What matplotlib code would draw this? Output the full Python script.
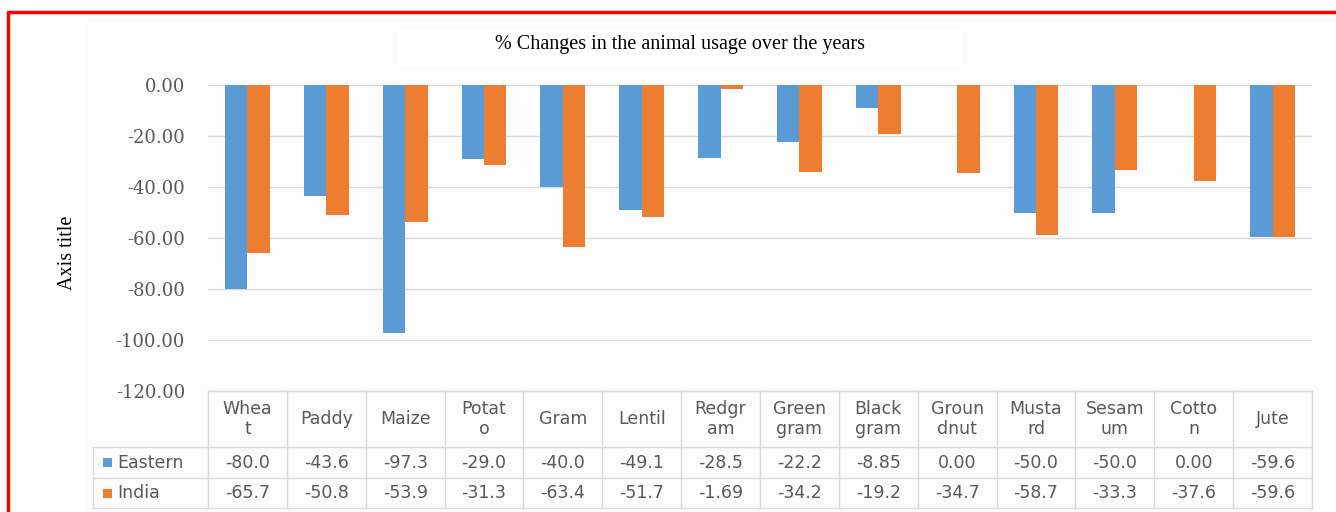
import matplotlib
matplotlib.use("Agg")
import matplotlib.pyplot as plt
from matplotlib.patches import Rectangle
from matplotlib.lines import Line2D

categories = ["Wheat", "Paddy", "Maize", "Potato", "Gram", "Lentil", "Redgram",
              "Green gram", "Black gram", "Groundnut", "Mustard", "Sesamum",
              "Cotton", "Jute"]
header_labels = ["Whea\nt", "Paddy", "Maize", "Potat\no", "Gram", "Lentil", "Redgr\nam",
                 "Green\ngram", "Black\ngram", "Groun\ndnut", "Musta\nrd", "Sesam\num",
                 "Cotto\nn", "Jute"]
eastern = [-80.0, -43.6, -97.3, -29.0, -40.0, -49.1, -28.5, -22.2, -8.85, 0.00,
           -50.0, -50.0, 0.00, -59.6]
india = [-65.7, -50.8, -53.9, -31.3, -63.4, -51.7, -1.69, -34.2, -19.2, -34.7,
         -58.7, -33.3, -37.6, -59.6]
eastern_text = ["-80.0", "-43.6", "-97.3", "-29.0", "-40.0", "-49.1", "-28.5", "-22.2",
                "-8.85", "0.00", "-50.0", "-50.0", "0.00", "-59.6"]
india_text = ["-65.7", "-50.8", "-53.9", "-31.3", "-63.4", "-51.7", "-1.69", "-34.2",
              "-19.2", "-34.7", "-58.7", "-33.3", "-37.6", "-59.6"]
series_names = ["Eastern", "India"]
yticks = [0, -20, -40, -60, -80, -100, -120]
title = "% Changes in the animal usage over the years"
ylabel = "Axis title"

BLUE = "#5B9BD5"
ORANGE = "#ED7D31"
GRID = "#D9D9D9"
TXT = "#595959"

W, H = 1336, 512
fig = plt.figure(figsize=(W / 100, H / 100), dpi=100)
fig.patch.set_facecolor("white")

# chart area background
fig.add_artist(Rectangle((85 / W, 0), (W - 85) / W, (H - 18) / H, transform=fig.transFigure,
                         facecolor="#FCFCFC", edgecolor="none", zorder=0))
# title box
fig.add_artist(Rectangle((398 / W, 1 - 66 / H), (962 - 398) / W, 36 / H, transform=fig.transFigure,
                         facecolor="white", edgecolor="none", zorder=1))
# red border
fig.add_artist(Line2D([8 / W, 8 / W, 1.0], [0, 1 - 12 / H, 1 - 12 / H], transform=fig.transFigure,
                      color="red", lw=2.5, zorder=10))

left, right, top, bottom = 208, 1312, 85, 391
ax = fig.add_axes([left / W, 1 - bottom / H, (right - left) / W, (bottom - top) / H])
ax.set_facecolor("none")
n = len(categories)
x = list(range(n))
bw = 0.285
ax.bar([i - bw / 2 for i in x], eastern, width=bw, color=BLUE, zorder=3)
ax.bar([i + bw / 2 for i in x], india, width=bw, color=ORANGE, zorder=3)
ax.set_xlim(-0.5, n - 0.5)
ax.set_ylim(-120, 0)
ax.set_yticks(yticks)
ax.set_yticklabels([f"{v:.2f}" for v in yticks], color=TXT, fontsize=13, family="DejaVu Serif")
ax.tick_params(axis="y", length=0, pad=16.5)
ax.set_xticks([])
ax.grid(axis="y", color=GRID, lw=1, zorder=0)
for s in ax.spines.values():
    s.set_visible(False)

fig.text(680 / W, 1 - 44 / H, title, ha="center", va="center", fontsize=14.5,
         family="Liberation Serif", color="black", zorder=5)
fig.text(67 / W, 1 - 253 / H, ylabel, ha="center", va="center", rotation=90,
         fontsize=14.5, family="Liberation Serif", color="black")

# data table
ax_h = bottom - top
def fy(px):
    return (bottom - px) / ax_h

trans = ax.get_xaxis_transform()
y_head_top = fy(391)
y_r1 = fy(447)
y_r2 = fy(478)
y_r3 = fy(508)
x_lab = -0.5 - (left - 93) / ((right - left) / n)
lkw = dict(color=GRID, lw=1, transform=trans, clip_on=False)
ax.add_line(Line2D([-0.5, n - 0.5], [y_head_top, y_head_top], **lkw))
for yy in (y_r1, y_r2, y_r3):
    ax.add_line(Line2D([x_lab, n - 0.5], [yy, yy], **lkw))
ax.add_line(Line2D([x_lab, x_lab], [y_r1, y_r3], **lkw))
for k in range(n + 1):
    ax.add_line(Line2D([k - 0.5, k - 0.5], [y_head_top, y_r3], **lkw))

tkw = dict(transform=trans, ha="center", va="center", fontsize=12.5, color=TXT,
           family="DejaVu Sans", clip_on=False)
for i in range(n):
    ax.text(i, (y_head_top + y_r1) / 2, header_labels[i], linespacing=1.1, **tkw)
    ax.text(i, (y_r1 + y_r2) / 2, eastern_text[i], **tkw)
    ax.text(i, (y_r2 + y_r3) / 2, india_text[i], **tkw)

cw = (right - left) / n
for row, (name, col) in enumerate(zip(series_names, [BLUE, ORANGE])):
    yc = (y_r1 + y_r2) / 2 if row == 0 else (y_r2 + y_r3) / 2
    ax.add_patch(Rectangle((x_lab + 10 / cw, yc - 4.5 / ax_h), 9 / cw, 9 / ax_h,
                           transform=trans, facecolor=col, edgecolor="none", clip_on=False))
    ax.text(x_lab + 24 / cw, yc, name, transform=trans, ha="left", va="center",
            fontsize=12.5, color=TXT, family="DejaVu Sans", clip_on=False)

fig.savefig("out.png", dpi=100, facecolor="white")
